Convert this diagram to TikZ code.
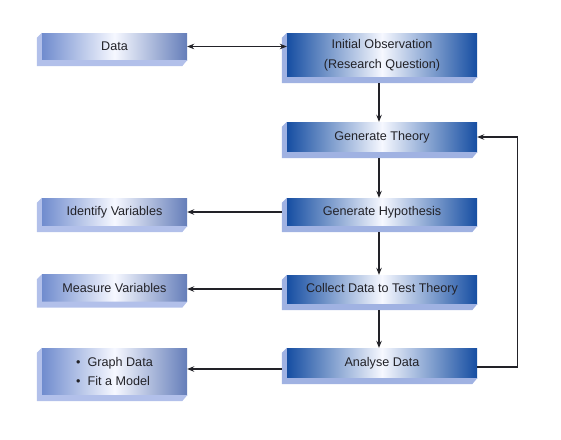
\documentclass[tikz,border=0pt]{standalone}
\usepackage{fontspec}
\setmainfont{Liberation Sans}
\usetikzlibrary{arrows.meta,calc}

\definecolor{facedark}{RGB}{22,78,162}
\definecolor{facelight}{RGB}{112,140,206}
\definecolor{facemid}{RGB}{246,248,255}
\definecolor{bevelR}{RGB}{160,178,226}
\definecolor{bevelL}{RGB}{178,192,234}
\definecolor{inkcol}{RGB}{34,34,40}

\tikzset{
  facebase/.style={rectangle, inner sep=0pt, text=inkcol, align=center,
    font=\fontsize{12.6}{19.5}\selectfont},
  mainbox/.style={facebase, minimum width=190pt,
    left color=facedark, right color=facedark, middle color=facemid},
  sidebox/.style={facebase, minimum width=145pt,
    left color=facelight, right color=facelight!90!black, middle color=facemid},
  link/.style={draw=inkcol, line width=1.1pt, -{Stealth[length=7pt,width=5.5pt]}},
}

\begin{document}
\begin{tikzpicture}[x=1pt, y=-1pt]
\useasboundingbox (0,0) rectangle (561,439);

% main chain of steps
\node[mainbox, minimum height=44pt] (obs)     at (382,55)    {Initial Observation\\(Research Question)};
\node[mainbox, minimum height=30pt] (theory)  at (382,137)   {Generate Theory};
\node[mainbox, minimum height=28pt] (hyp)     at (382,212)   {Generate Hypothesis};
\node[mainbox, minimum height=29pt] (collect) at (382,289.5) {Collect Data to Test Theory};
\node[mainbox, minimum height=30pt] (analyse) at (382,363)   {Analyse Data};

% side boxes
\node[sidebox, minimum height=27pt] (data)    at (114.5,46.5) {Data};
\node[sidebox, minimum height=28pt] (ident)   at (114.5,212)  {Identify Variables};
\node[sidebox, minimum height=27pt] (measure) at (114.5,288)  {Measure Variables};
\node[sidebox, minimum height=47pt, align=left, font=\fontsize{12.6}{19}\selectfont] (graph) at (114.5,371.5)
  {\textbullet\hspace{7pt}Graph Data\\\textbullet\hspace{7pt}Fit a Model};

% bevelled edges on the lower left of each box
\foreach \n in {obs,theory,hyp,collect,analyse}
  \fill[bevelR] (\n.north west) -- ++(-5,5) |- ($(\n.south east)+(-5,6)$)
    -- (\n.south east) -- (\n.south west) -- cycle;
\foreach \n in {data,ident,measure,graph}
  \fill[bevelL] (\n.north west) -- ++(-5,5) |- ($(\n.south east)+(-5,6)$)
    -- (\n.south east) -- (\n.south west) -- cycle;

% connectors
\draw[link, {Stealth[length=7pt,width=5.5pt]}-{Stealth[length=7pt,width=5.5pt]}]
  (data.east) -- (data.east -| obs.west);
\draw[link] ($(obs.south)+(-3,6)$) -- ($(theory.north)+(-3,0)$);
\draw[link] ($(theory.south)+(-3,6)$) -- ($(hyp.north)+(-3,0)$);
\draw[link] ($(hyp.south)+(-3,6)$) -- ($(collect.north)+(-3,0)$);
\draw[link] ($(collect.south)+(-3,6)$) -- ($(analyse.north)+(-3,0)$);

\draw[link] ($(hyp.west)+(-5,0)$) -- (hyp.west -| ident.east);
\draw[link] ($(collect.west)+(-5,-0.5)$) coordinate (cw) -- (cw -| measure.east);
\draw[link] ($(analyse.west)+(-5,6)$) coordinate (aw) -- (aw -| graph.east);

\draw[link] ($(analyse.east)+(0,4)$) -- ++(40,0) |- (theory.east);
\end{tikzpicture}
\end{document}
